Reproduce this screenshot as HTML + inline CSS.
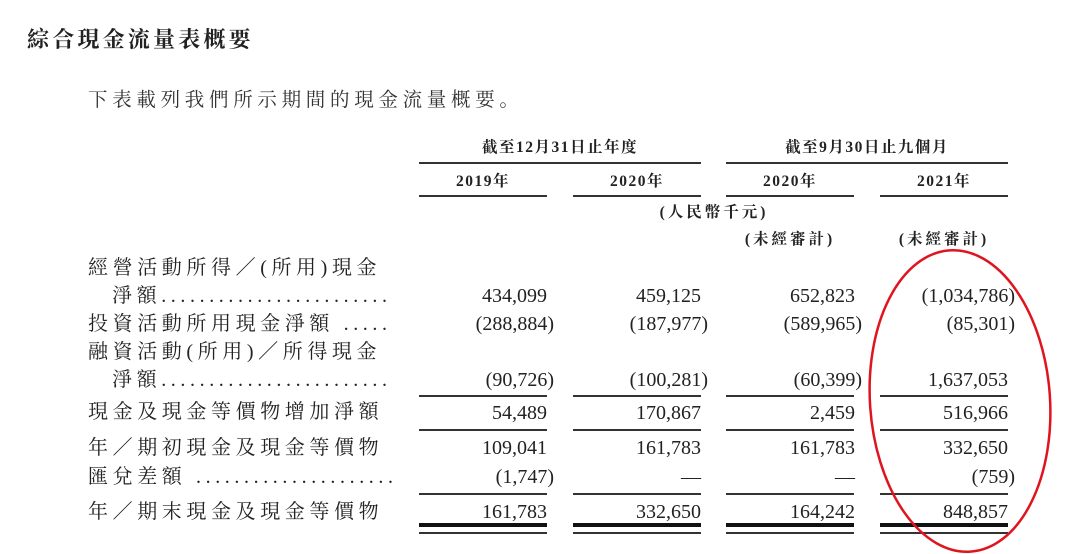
<!DOCTYPE html>
<html><head><meta charset="utf-8"><style>
body{margin:0;width:1080px;height:554px;background:#fff;position:relative;overflow:hidden;color:#222}
.a{position:absolute;white-space:nowrap}
.cj{font-family:"Liberation Serif","Noto Serif CJK SC","Noto Sans CJK TC",serif}
.lb{font-size:20px;letter-spacing:4.6px;line-height:24px}
.n{font-family:"Liberation Serif",serif;font-size:20px;line-height:24px;text-align:right}
.h{font-weight:bold;font-size:15.5px;line-height:20px;letter-spacing:1.5px;text-align:center}
.ln{position:absolute;height:1.5px;background:#333}
.dot{letter-spacing:4.6px}
</style></head><body>
<div class="a cj" style="left:27px;top:23px;font-size:22px;font-weight:bold;letter-spacing:3.2px">綜合現金流量表概要</div>
<div class="a cj" style="left:88px;top:84px;font-size:19.5px;letter-spacing:4.7px;color:#333">下表載列我們所示期間的現金流量概要。</div>

<div class="a cj h" style="left:419px;width:282px;top:138px">截至12月31日止年度</div>
<div class="a cj h" style="left:726px;width:282px;top:138px">截至9月30日止九個月</div>
<div class="ln" style="left:419px;width:282px;top:162px"></div>
<div class="ln" style="left:726px;width:282px;top:162px"></div>

<div class="a cj h" style="left:419px;width:128px;top:172px">2019年</div>
<div class="a cj h" style="left:573px;width:128px;top:172px">2020年</div>
<div class="a cj h" style="left:726px;width:128px;top:172px">2020年</div>
<div class="a cj h" style="left:880px;width:128px;top:172px">2021年</div>
<div class="ln" style="left:419px;width:128px;top:195px"></div>
<div class="ln" style="left:573px;width:128px;top:195px"></div>
<div class="ln" style="left:726px;width:128px;top:195px"></div>
<div class="ln" style="left:880px;width:128px;top:195px"></div>

<div class="a cj h" style="left:573px;width:282px;top:203px;letter-spacing:3px">(人民幣千元)</div>
<div class="a cj h" style="left:726px;width:128px;top:230px;letter-spacing:3px">(未經審計)</div>
<div class="a cj h" style="left:880px;width:128px;top:230px;letter-spacing:3px">(未經審計)</div>

<div class="a cj lb" style="left:88px;top:256px">經營活動所得／(所用)現金</div>
<div class="a cj lb" style="left:112px;top:284px">淨額<span class="dot">........................</span></div>
<div class="a cj lb" style="left:88px;top:312px">投資活動所用現金淨額 <span class="dot">.....</span></div>
<div class="a cj lb" style="left:88px;top:340px">融資活動(所用)／所得現金</div>
<div class="a cj lb" style="left:112px;top:368px">淨額<span class="dot">........................</span></div>
<div class="a cj lb" style="left:88px;top:400px">現金及現金等價物增加淨額</div>
<div class="a cj lb" style="left:88px;top:436px">年／期初現金及現金等價物</div>
<div class="a cj lb" style="left:88px;top:465px">匯兌差額 <span class="dot">.....................</span></div>
<div class="a cj lb" style="left:88px;top:500px">年／期末現金及現金等價物</div>

<div class="a n" style="right:533px;top:284px">434,099</div>
<div class="a n" style="right:379px;top:284px">459,125</div>
<div class="a n" style="right:225px;top:284px">652,823</div>
<div class="a n" style="right:65px;top:284px">(1,034,786)</div>

<div class="a n" style="right:526px;top:312px">(288,884)</div>
<div class="a n" style="right:372px;top:312px">(187,977)</div>
<div class="a n" style="right:218px;top:312px">(589,965)</div>
<div class="a n" style="right:65px;top:312px">(85,301)</div>

<div class="a n" style="right:526px;top:368px">(90,726)</div>
<div class="a n" style="right:372px;top:368px">(100,281)</div>
<div class="a n" style="right:218px;top:368px">(60,399)</div>
<div class="a n" style="right:72px;top:368px">1,637,053</div>
<div class="ln" style="left:419px;width:128px;top:395px"></div>
<div class="ln" style="left:573px;width:128px;top:395px"></div>
<div class="ln" style="left:726px;width:128px;top:395px"></div>
<div class="ln" style="left:880px;width:128px;top:395px"></div>

<div class="a n" style="right:533px;top:401px">54,489</div>
<div class="a n" style="right:379px;top:401px">170,867</div>
<div class="a n" style="right:225px;top:401px">2,459</div>
<div class="a n" style="right:72px;top:401px">516,966</div>
<div class="ln" style="left:419px;width:128px;top:429px"></div>
<div class="ln" style="left:573px;width:128px;top:429px"></div>
<div class="ln" style="left:726px;width:128px;top:429px"></div>
<div class="ln" style="left:880px;width:128px;top:429px"></div>

<div class="a n" style="right:533px;top:436px">109,041</div>
<div class="a n" style="right:379px;top:436px">161,783</div>
<div class="a n" style="right:225px;top:436px">161,783</div>
<div class="a n" style="right:72px;top:436px">332,650</div>

<div class="a n" style="right:526px;top:465px">(1,747)</div>
<div class="a n" style="right:379px;top:465px">—</div>
<div class="a n" style="right:225px;top:465px">—</div>
<div class="a n" style="right:65px;top:465px">(759)</div>
<div class="ln" style="left:419px;width:128px;top:493px"></div>
<div class="ln" style="left:573px;width:128px;top:493px"></div>
<div class="ln" style="left:726px;width:128px;top:493px"></div>
<div class="ln" style="left:880px;width:128px;top:493px"></div>

<div class="a n" style="right:533px;top:500px">161,783</div>
<div class="a n" style="right:379px;top:500px">332,650</div>
<div class="a n" style="right:225px;top:500px">164,242</div>
<div class="a n" style="right:72px;top:500px">848,857</div>
<div class="ln" style="left:419px;width:128px;top:523px;height:4px;background:#111"></div>
<div class="ln" style="left:573px;width:128px;top:523px;height:4px;background:#111"></div>
<div class="ln" style="left:726px;width:128px;top:523px;height:4px;background:#111"></div>
<div class="ln" style="left:880px;width:128px;top:523px;height:4px;background:#111"></div>
<div class="ln" style="left:419px;width:128px;top:532px"></div>
<div class="ln" style="left:573px;width:128px;top:532px"></div>
<div class="ln" style="left:726px;width:128px;top:532px"></div>
<div class="ln" style="left:880px;width:128px;top:532px"></div>

<svg class="a" style="left:0;top:0" width="1080" height="554">
<ellipse cx="960" cy="401" rx="90" ry="151" fill="none" stroke="#e0141e" stroke-width="2.5" transform="rotate(-4 960 401)"/>
</svg>
</body></html>
